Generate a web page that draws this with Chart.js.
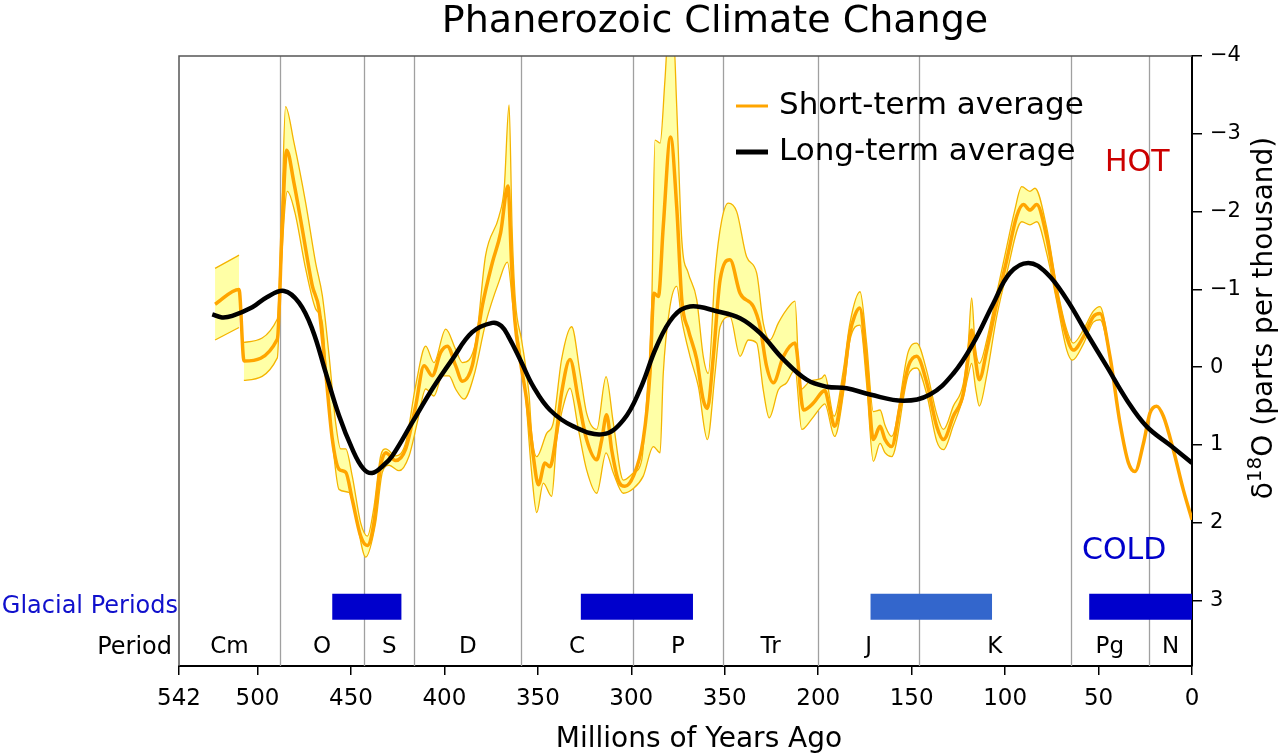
<!DOCTYPE html>
<html>
<head>
<meta charset="utf-8">
<title>Phanerozoic Climate Change</title>
<script src="https://cdn.jsdelivr.net/npm/chart.js@4.4.1/dist/chart.umd.min.js"></script>
<style>
  html, body { margin: 0; padding: 0; background: #fff; }
  #wrap { width: 1280px; height: 756px; }
</style>
</head>
<body>
<div id="wrap"><canvas id="chart" width="1280" height="756"></canvas></div>
<script>
// x: millions of years ago, y: delta 18O (parts per thousand)

const xTicks = [542, 500, 450, 400, 350, 300, 250, 200, 150, 100, 50, 0];
// the source figure labels the 250 tick as "350"
const xTickLabels = ['542', '500', '450', '400', '350', '300', '350', '200', '150', '100', '50', '0'];
const yTicks = [-4, -3, -2, -1, 0, 1, 2, 3];

const periodBounds = [542, 488, 443, 416, 359, 299, 251, 200, 146, 65, 23, 0];
const periodNames = ['Cm', 'O', 'S', 'D', 'C', 'P', 'Tr', 'J', 'K', 'Pg', 'N'];

const glacialStart = [460, 327, 172, 55];
const glacialEnd = [423, 267, 107, 0];

// short-term average (thick orange)
const shortAges = [522.7, 509.9, 507.2, 489.4, 486.7, 484.4, 480.5, 476.0, 470.7, 467.1,
  463.5, 460.0, 456.4, 452.8, 449.3, 444.8, 441.2, 437.7, 434.1, 431.4,
  426.1, 420.7, 415.4, 410.9, 406.5, 402.0, 398.4, 394.0, 390.4, 385.1,
  379.7, 374.4, 369.9, 366.0, 364.0, 362.3, 359.5, 356.0, 352.4, 349.7,
  346.2, 343.5, 340.8, 337.3, 332.8, 328.3, 323.9, 318.5, 315.8, 313.2,
  310.5, 307.0, 303.4, 298.9, 293.6, 290.0, 287.9, 285.5, 282.9, 279.0,
  275.7, 273.0, 269.5, 265.0, 261.5, 259.3, 256.1, 252.5, 247.2, 241.8,
  234.7, 231.1, 227.6, 224.0, 218.6, 212.4, 207.9, 202.6, 198.0, 196.5,
  193.7, 191.2, 186.5, 183.2, 180.5, 177.8, 174.1, 170.5, 166.9, 164.2,
  160.7, 156.2, 151.8, 147.3, 141.9, 136.6, 133.0, 127.7, 122.3, 119.7,
  117.9, 116.1, 113.8, 109.8, 104.5, 99.1, 93.8, 90.2, 86.7, 83.1,
  77.8, 72.4, 67.0, 63.5, 58.1, 52.8, 49.2, 43.9, 38.5, 34.0,
  30.5, 26.0, 22.5, 18.9, 15.3, 10.0, 4.6, 0];
const shortMid = [-0.81, -1.00, -0.08, -0.36, -1.86, -2.79, -2.37, -1.77, -1.05, -0.75,
  0.07, 0.92, 1.31, 1.35, 1.70, 2.17, 2.29, 2.00, 1.27, 1.10,
  1.20, 1.05, 0.50, -0.02, 0.11, -0.19, -0.27, -0.02, 0.18, -0.02,
  -0.79, -1.34, -1.73, -2.33, -1.30, -0.60, -0.10, 0.42, 1.15, 1.51,
  1.23, 1.28, 0.98, 0.33, -0.10, 0.42, 0.93, 1.19, 0.93, 0.61,
  1.06, 1.45, 1.53, 1.40, 0.93, 0.08, -0.95, -0.91, -1.81, -2.96,
  -2.06, -0.87, -0.48, -0.10, 0.42, 0.53, -0.14, -1.12, -1.38, -0.95,
  -0.78, -0.52, -0.01, 0.20, -0.14, -0.31, 0.55, 0.46, 0.32, 0.30,
  0.55, 0.76, 0.20, -0.42, -0.66, -0.76, -0.05, 0.93, 0.76, 0.93,
  1.02, 0.50, -0.01, -0.14, 0.20, 0.76, 0.93, 0.63, 0.33, -0.14,
  -0.48, -0.14, 0.16, -0.22, -0.82, -1.38, -1.94, -2.09, -2.02, -2.09,
  -1.68, -0.95, -0.39, -0.22, -0.39, -0.65, -0.69, -0.14, 0.72, 1.23,
  1.34, 0.98, 0.59, 0.50, 0.63, 1.06, 1.58, 1.96];

// upper edge of the short-term error band (null = gap)
const upperAges = [522.7, 509.9, 508.6, 507.3, 489.4, 487.0, 485.0, 480.5, 474.2, 468.9,
  465.3, 461.7, 458.2, 455.5, 452.8, 449.3, 444.8, 441.2, 437.7, 434.1,
  431.4, 426.1, 420.7, 415.4, 410.0, 405.6, 399.3, 394.0, 390.4, 383.3,
  378.0, 370.8, 368.0, 365.4, 363.8, 362.0, 358.7, 354.7, 353.3, 350.6,
  345.3, 341.8, 337.3, 331.9, 327.4, 323.9, 318.5, 313.5, 309.6, 304.3,
  298.9, 294.4, 291.8, 289.1, 287.3, 284.6, 282.0, 280.2, 277.5, 275.7,
  273.0, 269.5, 265.0, 261.5, 258.8, 255.2, 251.6, 248.1, 243.6, 238.3,
  232.9, 229.4, 225.8, 221.3, 216.9, 212.4, 209.7, 204.4, 198.1, 196.5,
  191.5, 186.5, 183.0, 177.6, 174.1, 170.5, 166.9, 164.2, 160.7, 151.8,
  147.3, 141.9, 136.6, 133.0, 127.7, 122.3, 119.7, 117.9, 116.1, 113.8,
  109.8, 104.5, 99.1, 95.0, 91.1, 86.7, 84.0, 77.8, 72.4, 67.0,
  63.5, 58.1, 52.8, 49.2, 43.9, 38.5];
const upperVals = [-1.27, -1.44, null, -0.32, -0.62, -2.00, -3.35, -2.89, -2.11, -1.34,
  -0.92, -0.15, 0.71, 1.05, 1.05, 1.40, 2.00, 2.17, 1.80, 1.14,
  1.05, 1.14, 0.97, 0.24, -0.27, -0.06, -0.49, -0.23, -0.06, -0.32,
  -1.43, -1.94, -2.30, -3.37, -1.80, -0.85, -0.35, 0.35, 0.85, 1.15,
  0.85, 0.72, -0.10, -0.52, 0.08, 0.59, 0.80, 0.12, 0.72, 1.45,
  1.36, 1.19, 0.42, -0.78, -2.92, -2.88, -3.69, -4.30, -4.30, -3.35,
  -1.64, -1.21, -0.87, -0.14, 0.08, -1.21, -1.89, -2.11, -2.00, -1.42,
  -1.21, -0.57, -0.35, -0.57, -0.74, -0.85, 0.29, 0.18, 0.14, 0.10,
  0.63, 0.03, -0.57, -0.97, -0.31, 0.57, 0.55, 0.75, 0.89, -0.20,
  -0.31, 0.05, 0.60, 0.80, 0.50, 0.20, -0.30, -0.89, -0.30, -0.05,
  -0.35, -0.95, -1.55, -2.00, -2.32, -2.26, -2.30, -1.80, -1.05, -0.48,
  -0.31, -0.48, -0.72, -0.78, -0.16, 0.70];

// lower edge of the short-term error band
const lowerAges = [522.7, 509.9, 508.6, 507.3, 489.4, 487.5, 484.0, 480.0, 474.2, 468.9,
  465.3, 462.6, 459.1, 456.4, 451.0, 447.5, 442.1, 436.8, 433.2, 429.6,
  424.3, 418.9, 414.5, 410.0, 405.6, 401.1, 397.5, 394.0, 389.5, 384.2,
  377.9, 370.8, 366.3, 363.1, 360.4, 356.9, 353.3, 350.6, 347.1, 342.6,
  339.9, 336.4, 332.8, 328.3, 323.9, 318.5, 313.5, 309.6, 304.3, 298.9,
  293.6, 288.2, 284.6, 282.9, 279.3, 275.7, 273.0, 268.6, 264.1, 259.3,
  255.2, 252.5, 247.2, 241.8, 237.4, 232.9, 229.4, 226.2, 221.3, 216.9,
  212.4, 208.8, 203.6, 198.1, 196.5, 191.2, 186.5, 183.0, 177.6, 174.1,
  170.5, 166.9, 164.2, 160.7, 151.8, 147.3, 141.9, 136.6, 133.0, 127.7,
  122.3, 119.7, 117.9, 115.6, 113.8, 109.8, 104.5, 99.1, 91.1, 86.7,
  83.0, 77.8, 72.4, 67.0, 64.0, 58.1, 52.8, 49.2, 43.9, 38.5];
const lowerVals = [-0.35, -0.51, null, 0.17, -0.12, -1.20, -2.26, -1.99, -1.26, -0.75,
  -0.57, 0.28, 1.14, 1.57, 1.61, 1.91, 2.44, 2.00, 1.35, 1.26,
  1.33, 1.14, 0.71, 0.28, 0.37, 0.11, 0.11, 0.28, 0.41, 0.11,
  -0.57, -1.10, -1.35, -0.74, -0.35, 0.29, 1.36, 1.87, 1.49, 1.66,
  0.93, 0.50, 0.27, 0.80, 1.32, 1.62, 1.10, 1.36, 1.62, 1.56,
  1.40, 1.02, 1.10, 0.08, -0.78, -1.04, -0.61, -0.14, 0.25, 0.93,
  0.08, -0.52, -0.65, -0.14, -0.35, -0.31, 0.29, 0.65, 0.29, 0.20,
  0.03, 0.80, 0.67, 0.50, 0.47, 0.89, 0.34, -0.35, -0.54, 0.21,
  1.21, 0.98, 1.10, 1.15, 0.10, 0.01, 0.35, 0.95, 1.06, 0.75,
  0.38, 0.10, -0.05, 0.30, 0.50, 0.10, -0.65, -1.21, -1.87, -1.83,
  -1.87, -1.47, -0.85, -0.22, -0.09, -0.30, -0.58, -0.61, -0.12, 0.74];

// long-term average (thick black)
const longAges = [524.2, 519.0, 513.5, 502.8, 495.0, 485.8, 477.8, 470.7, 463.5, 456.4,
  449.3, 443.5, 438.6, 433.0, 427.9, 417.2, 406.5, 395.8, 385.1, 374.4,
  369.5, 365.4, 359.5, 352.4, 343.5, 331.0, 315.0, 304.3, 295.4, 286.4,
  277.5, 268.6, 254.3, 241.8, 231.2, 218.6, 206.2, 195.5, 184.8, 172.3,
  154.4, 140.2, 127.7, 117.0, 106.3, 97.4, 87.6, 77.8, 67.0, 56.4,
  45.6, 34.9, 24.3, 11.8, 0];
const longVals = [-0.68, -0.64, -0.66, -0.77, -0.90, -0.98, -0.83, -0.49, 0.07, 0.62,
  1.05, 1.30, 1.36, 1.27, 1.14, 0.71, 0.28, -0.10, -0.45, -0.57,
  -0.53, -0.38, -0.10, 0.25, 0.55, 0.76, 0.86, 0.68, 0.29, -0.27,
  -0.65, -0.78, -0.72, -0.63, -0.44, -0.10, 0.16, 0.25, 0.27, 0.35,
  0.43, 0.35, 0.08, -0.31, -0.82, -1.21, -1.34, -1.21, -0.87, -0.44,
  -0.01, 0.42, 0.76, 1.00, 1.23];

const FONT = "'DejaVu Sans', 'Liberation Sans', sans-serif";
const toPoints = (xs, ys) => xs.map((x, i) => ({ x: x, y: ys[i] }));

const glacialSets = glacialStart.map((s, i) => ({
  label: 'glacial' + i,
  data: [{ x: s, y: 3.08 }, { x: glacialEnd[i], y: 3.08 }],
  borderColor: i === 2 ? '#3366cc' : '#0000cc',
  borderWidth: 26,
  borderCapStyle: 'butt',
  pointRadius: 0,
  fill: false,
  clip: 0,
  order: 1
}));

// titles, vertical period boundaries, period letters, side labels, legend
const decorPlugin = {
  id: 'decor',
  beforeDatasetsDraw(chart) {
    const { ctx, chartArea, scales } = chart;
    ctx.save();
    ctx.strokeStyle = '#a0a0a0';
    ctx.lineWidth = 1.3;
    periodBounds.slice(1, -1).forEach(b => {
      const x = Math.round(scales.x.getPixelForValue(b)) + 0.5;
      ctx.beginPath();
      ctx.moveTo(x, chartArea.top);
      ctx.lineTo(x, chartArea.bottom);
      ctx.stroke();
    });
    ctx.fillStyle = '#000';
    ctx.font = '23px ' + FONT;
    ctx.textAlign = 'center';
    ctx.textBaseline = 'middle';
    const yLab = scales.y.getPixelForValue(3.6);
    periodNames.forEach((n, i) => {
      const mid = (periodBounds[i] + periodBounds[i + 1]) / 2;
      ctx.fillText(n, scales.x.getPixelForValue(mid), yLab);
    });
    ctx.font = '24px ' + FONT;
    ctx.textAlign = 'right';
    ctx.fillText('Period', chartArea.left - 7, yLab);
    ctx.fillStyle = '#1010cc';
    ctx.fillText('Glacial Periods', chartArea.left - 1, scales.y.getPixelForValue(3.08));

    // chart title and x axis title
    ctx.fillStyle = '#000';
    ctx.textAlign = 'center';
    ctx.textBaseline = 'alphabetic';
    ctx.font = '38px ' + FONT;
    ctx.fillText('Phanerozoic Climate Change', 715, 32);
    ctx.font = '28px ' + FONT;
    ctx.fillText('Millions of Years Ago', 699, 747);
    ctx.restore();
  },
  afterDatasetsDraw(chart) {
    const { ctx, chartArea } = chart;
    ctx.save();
    // top and left frame
    ctx.strokeStyle = '#555';
    ctx.lineWidth = 1.5;
    ctx.beginPath();
    ctx.moveTo(chartArea.left, chartArea.bottom);
    ctx.lineTo(chartArea.left, chartArea.top);
    ctx.lineTo(chartArea.right, chartArea.top);
    ctx.stroke();

    // legend
    ctx.font = '31px ' + FONT;
    ctx.textAlign = 'left';
    ctx.textBaseline = 'middle';
    ctx.lineCap = 'butt';
    ctx.strokeStyle = '#ffa500';
    ctx.lineWidth = 3;
    ctx.beginPath(); ctx.moveTo(736, 106); ctx.lineTo(768, 106); ctx.stroke();
    ctx.strokeStyle = '#000';
    ctx.lineWidth = 5;
    ctx.beginPath(); ctx.moveTo(736, 152); ctx.lineTo(768, 152); ctx.stroke();
    ctx.fillStyle = '#000';
    ctx.fillText('Short-term average', 779, 106);
    ctx.fillText('Long-term average', 779, 152);

    // HOT / COLD
    ctx.font = '30px ' + FONT;
    ctx.fillStyle = '#cc0000';
    ctx.fillText('HOT', 1105, 163);
    ctx.fillStyle = '#0000cc';
    ctx.fillText('COLD', 1082, 551);

    // right axis title, reading bottom to top
    ctx.translate(1272, 318);
    ctx.rotate(-Math.PI / 2);
    ctx.fillStyle = '#000';
    ctx.textBaseline = 'alphabetic';
    const big = '28px ' + FONT, small = '20px ' + FONT;
    ctx.font = big;
    const w1 = ctx.measureText('\u03b4').width;
    const w3 = ctx.measureText('O (parts per thousand)').width;
    ctx.font = small;
    const w2 = ctx.measureText('18').width;
    const x0 = -(w1 + w2 + w3) / 2;
    ctx.font = big;
    ctx.fillText('\u03b4', x0, 0);
    ctx.font = small;
    ctx.fillText('18', x0 + w1, -11);
    ctx.font = big;
    ctx.fillText('O (parts per thousand)', x0 + w1 + w2, 0);
    ctx.restore();
  }
};

new Chart(document.getElementById('chart'), {
  type: 'line',
  data: {
    datasets: [
      {
        label: 'band upper',
        data: toPoints(upperAges, upperVals),
        borderColor: '#f4b400',
        borderWidth: 1.3,
        backgroundColor: '#ffffa6',
        fill: '+1',
        pointRadius: 0,
        cubicInterpolationMode: 'monotone',
        spanGaps: false,
        clip: 0,
        order: 5
      },
      {
        label: 'band lower',
        data: toPoints(lowerAges, lowerVals),
        borderColor: '#f4b400',
        borderWidth: 1.3,
        fill: false,
        pointRadius: 0,
        cubicInterpolationMode: 'monotone',
        spanGaps: false,
        clip: 0,
        order: 4
      },
      {
        label: 'Short-term average',
        data: toPoints(shortAges, shortMid),
        borderColor: '#ffa500',
        borderWidth: 3.5,
        fill: false,
        pointRadius: 0,
        cubicInterpolationMode: 'monotone',
        clip: 0,
        order: 3
      },
      {
        label: 'Long-term average',
        data: toPoints(longAges, longVals),
        borderColor: '#000',
        borderWidth: 4.5,
        fill: false,
        pointRadius: 0,
        tension: 0.4,
        clip: 0,
        order: 2
      },
      ...glacialSets
    ]
  },
  options: {
    responsive: false,
    animation: false,
    devicePixelRatio: 1,
    layout: { padding: { left: 179, right: 0, top: 56, bottom: 0 } },
    plugins: {
      legend: { display: false },
      tooltip: { enabled: false },
      title: { display: false }
    },
    scales: {
      x: {
        type: 'linear',
        min: 0,
        max: 542,
        reverse: true,
        afterBuildTicks: s => { s.ticks = xTicks.map(v => ({ value: v })); },
        afterFit: s => { s.height = 90; },
        ticks: {
          color: '#000',
          font: { family: FONT, size: 23 },
          padding: 10,
          maxRotation: 0,
          autoSkip: false,
          callback: (v, i) => xTickLabels[i]
        },
        grid: { drawOnChartArea: false, drawTicks: true, tickLength: 9, color: '#000', lineWidth: 1.5 },
        border: { display: true, color: '#000', width: 2 }
      },
      y: {
        type: 'linear',
        position: 'right',
        min: -4,
        max: 3.84,
        reverse: true,
        afterBuildTicks: s => { s.ticks = yTicks.map(v => ({ value: v })); },
        afterFit: s => { s.width = 88; },
        ticks: {
          color: '#000',
          font: { family: FONT, size: 21 },
          padding: 8,
          callback: v => (v < 0 ? '\u2212' + (-v) : String(v))
        },
        grid: { drawOnChartArea: false, drawTicks: true, tickLength: 10, color: '#000', lineWidth: 1.5 },
        border: { display: true, color: '#000', width: 2 }
      }
    }
  },
  plugins: [decorPlugin]
});
</script>
</body>
</html>
